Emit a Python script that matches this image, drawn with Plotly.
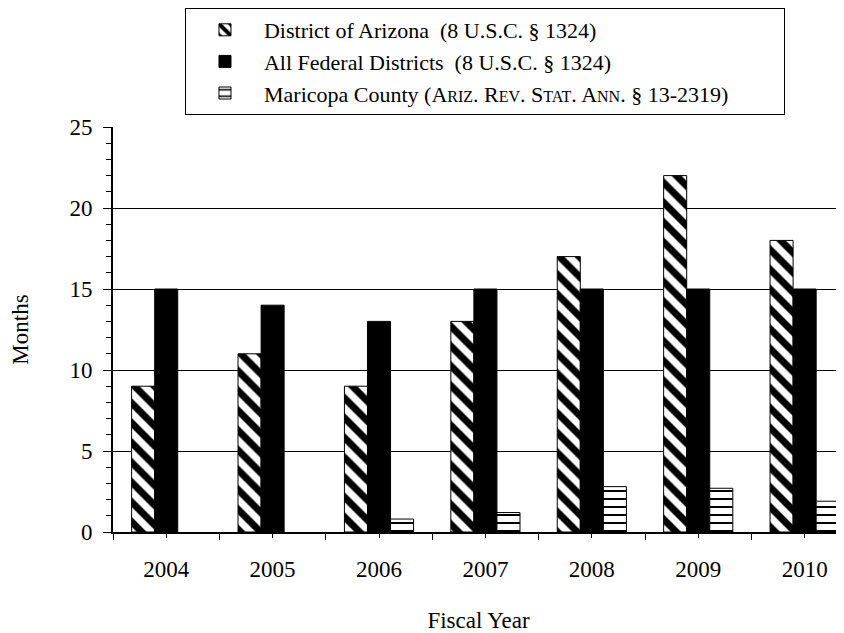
import plotly.graph_objects as go

years = [2004, 2005, 2006, 2007, 2008, 2009, 2010]
arizona = [9, 11, 9, 13, 17, 22, 18]
federal = [15, 14, 13, 15, 15, 15, 15]
maricopa = [None, None, 0.8, 1.2, 2.8, 2.7, 1.9]

FONT = "Liberation Serif"
sc = lambda s: f"<span style='font-size:16px'>{s}</span>"
name_az = "District of Arizona\u00a0\u00a0(8 U.S.C. § 1324)"
name_fed = "All Federal Districts\u00a0\u00a0(8 U.S.C. § 1324)"
name_mc = ("Maricopa County (A" + sc("RIZ") + ". R" + sc("EV") + ". S" + sc("TAT")
           + ". A" + sc("NN") + ". § 13-2319)")

fig = go.Figure()
fig.add_trace(go.Bar(
    x=years, y=arizona, name=name_az,
    marker=dict(color="white", line=dict(color="black", width=1),
                pattern=dict(shape="\\", fgcolor="black", bgcolor="white",
                             fgopacity=1, size=14, solidity=0.5,
                             fillmode="overlay")),
))
fig.add_trace(go.Bar(
    x=years, y=federal, name=name_fed,
    marker=dict(color="black", line=dict(color="black", width=1)),
))
fig.add_trace(go.Bar(
    x=years, y=maricopa, name=name_mc,
    marker=dict(color="white", line=dict(color="black", width=1),
                pattern=dict(shape="-", fgcolor="black", bgcolor="white",
                             fgopacity=1, size=8, solidity=0.25,
                             fillmode="overlay")),
))

fig.update_layout(
    width=836, height=625,
    margin=dict(l=105, r=0, t=119, b=101, autoexpand=False),
    paper_bgcolor="white", plot_bgcolor="white",
    font=dict(family=FONT, size=23, color="black"),
    barmode="group", bargap=0.35, bargroupgap=0,
    showlegend=True,
    legend=dict(
        xref="container", yref="container",
        orientation="h",
        x=0.2117, xanchor="left", y=1.0, yanchor="top",
        bordercolor="black", borderwidth=1, bgcolor="white",
        font=dict(family=FONT, size=22),
        itemwidth=68,
        entrywidth=515, entrywidthmode="pixels",
        traceorder="normal",
    ),
    xaxis=dict(
        range=[2003.5, 2010.37],
        tickmode="array", tickvals=years, ticktext=[str(y) for y in years],
        ticks="outside", ticklen=4, tickwidth=1, tickcolor="black",
        minor=dict(tick0=2003.5, dtick=1, ticks="outside", ticklen=6,
                   tickwidth=1, tickcolor="black", showgrid=False),
        showline=True, linecolor="black", linewidth=2,
        showgrid=False, zeroline=False,
        tickfont=dict(size=23),
        ticklabelstandoff=11,
        title=dict(text="Fiscal Year", standoff=33, font=dict(size=23)),
    ),
    yaxis=dict(
        range=[0, 25], tickmode="linear", tick0=0, dtick=5,
        ticks="outside", ticklen=8, tickwidth=1, tickcolor="black",
        minor=dict(dtick=1, ticks="outside", ticklen=5, tickwidth=1,
                   tickcolor="black", showgrid=False),
        showline=True, linecolor="black", linewidth=2,
        showgrid=True, gridcolor="black", gridwidth=1,
        zeroline=False,
        tickfont=dict(size=23),
        ticklabelstandoff=6,
        title=dict(text="Months", standoff=37, font=dict(size=23)),
    ),
)

fig.write_html("out.html")
